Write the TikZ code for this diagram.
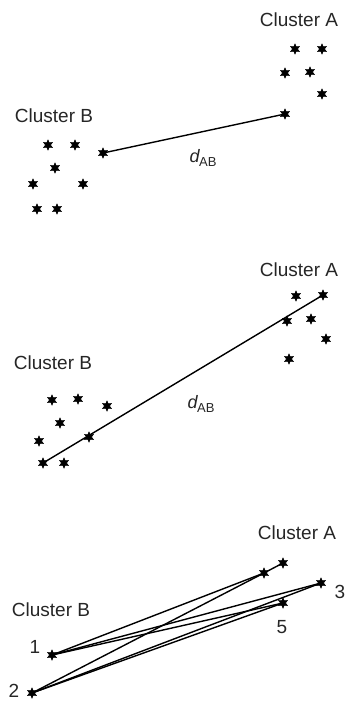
\documentclass[tikz,border=0pt]{standalone}
\usepackage{fontspec}
\setmainfont{Liberation Sans}
\usetikzlibrary{shapes.geometric}
\begin{document}
\begin{tikzpicture}[x=1pt,y=-1pt,
  ast/.style={star, star points=6, star point ratio=2.0, fill=black, draw=black, line width=0.6pt, inner sep=0pt, minimum size=10pt},
  lbl/.style={font=\fontsize{19}{21}\selectfont, text=black!85, inner sep=0pt},
  dlbl/.style={inner sep=0pt, text=black!85},
  conn/.style={line width=1.4pt, line cap=round}]
\useasboundingbox (0,0) rectangle (347,702);
% ---------- Panel 1 ----------
\node[lbl] (ca1) at (299,20) {Cluster A};
\node[lbl] (cb1) at (54,116) {Cluster B};
\node[ast] (a11) at (295,49) {};
\node[ast] (a12) at (322,49) {};
\node[ast] (a13) at (285,73) {};
\node[ast] (a14) at (310,72) {};
\node[ast] (a15) at (322,94) {};
\node[ast] (a16) at (285,114) {};
\node[ast] (b11) at (48,145) {};
\node[ast] (b12) at (75,145) {};
\node[ast] (b13) at (103,153) {};
\node[ast] (b14) at (55,168) {};
\node[ast] (b15) at (33,184) {};
\node[ast] (b16) at (83,184) {};
\node[ast] (b17) at (37,209) {};
\node[ast] (b18) at (57,209) {};
\draw[conn] (b13.center) -- (a16.center);
\node[dlbl] (d1) at (203,158) {\fontsize{18}{20}\selectfont\itshape d\kern-0.5pt\raisebox{-4pt}{\fontsize{13}{14}\selectfont\upshape AB}};
% ---------- Panel 2 ----------
\node[lbl] (ca2) at (299,270) {Cluster A};
\node[lbl] (cb2) at (53,363) {Cluster B};
\node[ast] (a21) at (296,296) {};
\node[ast] (a22) at (323,295) {};
\node[ast] (a23) at (287,321) {};
\node[ast] (a24) at (311,319) {};
\node[ast] (a25) at (326,339) {};
\node[ast] (a26) at (289,359) {};
\node[ast] (b21) at (52,400) {};
\node[ast] (b22) at (78,399) {};
\node[ast] (b23) at (107,406) {};
\node[ast] (b24) at (60,423) {};
\node[ast] (b25) at (39,441) {};
\node[ast] (b26) at (89,437) {};
\node[ast] (b27) at (43,463) {};
\node[ast] (b28) at (64,463) {};
\draw[conn] (b27.center) -- (a22.center);
\node[dlbl] (d2) at (201,404) {\fontsize{18}{20}\selectfont\itshape d\kern-0.5pt\raisebox{-4pt}{\fontsize{13}{14}\selectfont\upshape AB}};
% ---------- Panel 3 ----------
\node[lbl] (ca3) at (297,533) {Cluster A};
\node[lbl] (cb3) at (51,610) {Cluster B};
\node[ast] (p1) at (52,655) {};
\node[ast] (p2) at (32,693) {};
\node[ast] (q1) at (264,573) {};
\node[ast] (q2) at (283,563) {};
\node[ast] (q3) at (321,583) {};
\node[ast] (q5) at (283,603) {};
\node[lbl] (n1) at (35,647) {1};
\node[lbl] (n2) at (14,691) {2};
\node[lbl] (n3) at (340,592) {3};
\node[lbl] (n5) at (282,627) {5};
\draw[conn] (p1.center) -- (q1.center);
\draw[conn] (p2.center) -- (q1.center);
\draw[conn] (q1.center) -- (q2.center);
\draw[conn] (p1.center) -- (q3.center);
\draw[conn] (p2.center) -- (q3.center);
\draw[conn] (p1.center) -- (q5.center);
\draw[conn] (p2.center) -- (q5.center);
\end{tikzpicture}
\end{document}
